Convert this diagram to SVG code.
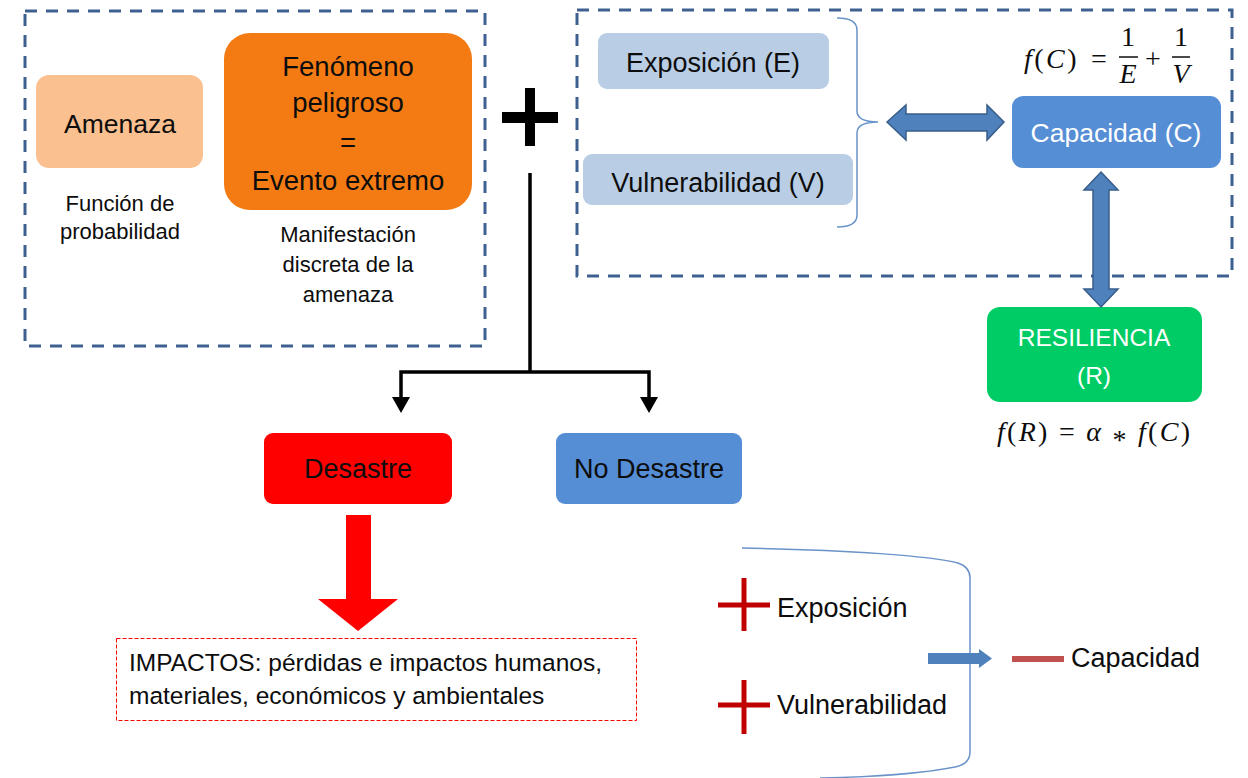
<svg xmlns="http://www.w3.org/2000/svg" width="1248" height="778" viewBox="0 0 1248 778">
<defs>
<style>
text{font-family:"Liberation Sans",Arial,sans-serif;fill:#0d0d0d}
.c{text-anchor:middle}
.lbl{font-size:27px}
.cap{font-size:22px}
.w{fill:#ffffff}
.m{font-family:"Liberation Serif","Times New Roman",serif;font-size:28px;fill:#0d0d0d}
.i{font-style:italic}
.dash{fill:none;stroke:#3e6091;stroke-width:3;stroke-dasharray:12 9}
.blk{fill:none;stroke:#000;stroke-width:3.5}
.darrow{fill:#4f81bd;stroke:#385d8a;stroke-width:1.5}
.brace{fill:none;stroke:#6a93c9;stroke-width:1.5}
.plus{stroke:#c00000;stroke-width:5}
</style>
<marker id="ah" markerUnits="userSpaceOnUse" markerWidth="18" markerHeight="18" viewBox="0 0 16 18" refX="0" refY="9" orient="auto">
<path d="M0,0 L16,9 L0,18 z" fill="#000"/>
</marker>
</defs>

<g id="frame-left"><rect class="dash" x="25" y="11" width="460" height="335"/></g>
<g id="frame-right"><rect class="dash" x="577" y="10" width="655" height="266"/></g>

<g id="amenaza">
<rect x="36" y="75" width="167" height="93" rx="13" fill="#fac090"/>
<text class="c" x="120" y="133" font-size="26.5">Amenaza</text>
<text class="c cap" x="120" y="211">Función de</text>
<text class="c cap" x="120" y="239">probabilidad</text>
</g>

<g id="fenomeno">
<rect x="224" y="33" width="248" height="177" rx="26" fill="#f47b13"/>
<text class="c" x="348" y="76" font-size="27.5">Fenómeno</text>
<text class="c" x="348" y="112" font-size="27.5">peligroso</text>
<text class="c" x="348" y="152" font-size="27.5">=</text>
<text class="c" x="348" y="190" font-size="27.5">Evento extremo</text>
<text class="c cap" x="348" y="242">Manifestación</text>
<text class="c cap" x="348" y="272">discreta de la</text>
<text class="c cap" x="348" y="302">amenaza</text>
</g>

<g id="plus">
<rect x="502" y="112" width="56" height="11" fill="#000"/>
<rect x="525" y="88" width="10" height="58" fill="#000"/>
</g>

<g id="exposicion">
<rect x="598" y="33" width="231" height="56" rx="9" fill="#b9cde5"/>
<text class="c lbl" x="713" y="72">Exposición (E)</text>
</g>

<g id="vulnerabilidad">
<rect x="583" y="154" width="270" height="51" rx="9" fill="#b9cde5"/>
<text class="c lbl" x="718" y="192">Vulnerabilidad (V)</text>
</g>

<g id="capacidad">
<rect x="1012" y="96" width="209" height="72" rx="11" fill="#558ed5"/>
<text class="c w" x="1116" y="142" font-size="26.5">Capacidad (C)</text>
</g>

<g id="formula-c">
<text class="m" x="1024" y="68" font-size="32" letter-spacing="2.5"><tspan class="i">f</tspan>(<tspan class="i">C</tspan>)</text>
<text class="m" x="1099" y="68" text-anchor="middle" font-size="32">=</text>
<text class="m" x="1128" y="46" text-anchor="middle" font-size="27">1</text>
<line x1="1119" y1="57" x2="1138" y2="57" stroke="#0d0d0d" stroke-width="1.5"/>
<text class="m i" x="1128" y="83" text-anchor="middle" font-size="27">E</text>
<text class="m" x="1153" y="68" text-anchor="middle" font-size="30">+</text>
<text class="m" x="1181" y="46" text-anchor="middle" font-size="27">1</text>
<line x1="1172" y1="57" x2="1190" y2="57" stroke="#0d0d0d" stroke-width="1.5"/>
<text class="m i" x="1181" y="83" text-anchor="middle" font-size="27">V</text>
</g>

<g id="resiliencia">
<rect x="987" y="307" width="215" height="95" rx="13" fill="#00cc66"/>
<text class="c w" x="1094" y="346" font-size="24.5">RESILIENCIA</text>
<text class="c w" x="1094" y="384" font-size="24.5">(R)</text>
<text class="m" x="997" y="441" font-size="29" textLength="193" lengthAdjust="spacing"><tspan class="i">f</tspan>(<tspan class="i">R</tspan>) = <tspan class="i">α</tspan> <tspan dy="8">*</tspan><tspan dy="-8"> </tspan><tspan class="i">f</tspan>(<tspan class="i">C</tspan>)</text>
</g>

<g id="desastre">
<rect x="264" y="433" width="188" height="71" rx="9" fill="#ff0000"/>
<text class="c lbl" x="358" y="478">Desastre</text>
</g>

<g id="no-desastre">
<rect x="556" y="433" width="186" height="71" rx="9" fill="#558ed5"/>
<text class="c lbl" x="649" y="478">No Desastre</text>
</g>

<g id="impactos">
<rect x="116.5" y="638.5" width="520" height="82" fill="none" stroke="#ff0000" stroke-width="1" stroke-dasharray="4 2"/>
<text x="129" y="671" font-size="24.5">IMPACTOS: pérdidas e impactos humanos,</text>
<text x="129" y="704" font-size="24.5">materiales, económicos y ambientales</text>
</g>

<g id="summary">
<line class="plus" x1="718" y1="605" x2="770" y2="605"/>
<line class="plus" x1="744" y1="578" x2="744" y2="631"/>
<text class="lbl" x="777" y="617">Exposición</text>
<line class="plus" x1="718" y1="705" x2="770" y2="705"/>
<line class="plus" x1="744" y1="680" x2="744" y2="734"/>
<text class="lbl" x="777" y="714">Vulnerabilidad</text>
<rect x="1012" y="656" width="52" height="6" fill="#c0504d"/>
<text class="lbl" x="1071" y="667">Capacidad</text>
</g>

<g id="connectors">
<path class="brace" d="M837,18 Q857,18 857,30 L857,111 Q857,122 878,122 Q857,122 857,133 L857,215 Q857,227 837,227"/>
<path class="brace" d="M742,548 C850,550 930,556 958,563 Q970,567 970,578 L970,752 Q970,764 955,767 C920,774 870,777 820,778"/>
<polygon class="darrow" points="887,122 906,105 906,114 987,114 987,105 1004,122 987,140 987,131 906,131 906,140"/>
<polygon class="darrow" points="1101,172 1118,190 1109,190 1109,289 1118,289 1101,307 1084,289 1093,289 1093,190 1084,190"/>
<path class="blk" d="M530,173 V372"/>
<path class="blk" d="M530,372 H401 V397" marker-end="url(#ah)"/>
<path class="blk" d="M530,372 H649 V397" marker-end="url(#ah)"/>
<polygon points="346,515 371,515 371,599 398,599 358,631 318,599 346,599" fill="#ff0000"/>
<polygon points="928,653 979,653 979,649 992,658.5 979,668 979,664 928,664" fill="#4f81bd"/>
</g>
</svg>
